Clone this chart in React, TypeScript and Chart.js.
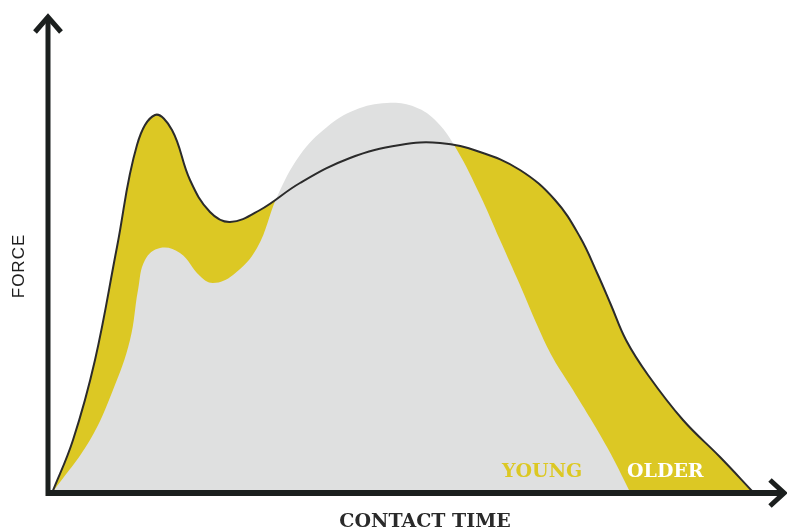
import React, { useEffect, useRef } from "react";
import { Chart, registerables } from "chart.js";

Chart.register(...registerables);

// Data in chart units: x = contact time, y = force
const olderX = [4, 25, 47, 69, 89, 107, 124, 142, 162, 182, 212, 252, 302, 352, 392, 432, 472, 507, 532, 550, 563, 578, 600, 635, 672, 705];
const olderY = [0, 53, 133, 246, 348, 378, 363, 313, 281, 271, 283, 310, 335, 348, 350, 341, 323, 293, 256, 218, 188, 153, 118, 73, 36, 1];

const youngX = [4, 42, 65, 82, 90, 97, 112, 132, 152, 165, 185, 209, 229, 252, 279, 307, 339, 367, 389, 409, 432, 452, 472, 490, 505, 525, 559, 582];
const youngY = [0, 53, 103, 153, 203, 233, 245, 240, 217, 210, 218, 245, 296, 338, 366, 383, 390, 386, 371, 343, 298, 253, 208, 166, 135, 103, 46, 1];

const xLabel = "CONTACT TIME";
const yLabel = "FORCE";
const seriesLabels = ["YOUNG", "OLDER"];

const YELLOW = "rgb(220,200,36)";
const GRAY = "rgb(223,224,224)";
const INK = "#1b1f1e";

const decorPlugin = {
  id: "decor",
  afterDatasetsDraw(chart: any) {
    const { ctx, scales } = chart;
    const xs = scales.x;
    const ys = scales.y;
    const x0 = xs.getPixelForValue(0);
    const y0 = ys.getPixelForValue(0);
    ctx.save();
    // series labels
    ctx.font = "bold 19px 'DejaVu Serif'";
    ctx.textAlign = "left";
    ctx.textBaseline = "alphabetic";
    ctx.fillStyle = YELLOW;
    ctx.fillText(seriesLabels[0], xs.getPixelForValue(454), ys.getPixelForValue(16));
    ctx.fillStyle = "#ffffff";
    ctx.fillText(seriesLabels[1], xs.getPixelForValue(579), ys.getPixelForValue(16));

    // axes
    ctx.strokeStyle = INK;
    ctx.lineCap = "butt";
    ctx.lineJoin = "miter";
    ctx.lineWidth = 5;
    ctx.beginPath();
    ctx.moveTo(x0, y0 + 3);
    ctx.lineTo(x0, 17);
    ctx.stroke();
    ctx.lineWidth = 6;
    ctx.beginPath();
    ctx.moveTo(x0 - 2, y0);
    ctx.lineTo(783, y0);
    ctx.stroke();
    // arrowheads
    ctx.lineWidth = 5;
    ctx.beginPath();
    ctx.moveTo(x0 - 13, 32);
    ctx.lineTo(x0, 17);
    ctx.lineTo(x0 + 13, 32);
    ctx.stroke();
    ctx.beginPath();
    ctx.moveTo(770, y0 - 13);
    ctx.lineTo(784, y0);
    ctx.lineTo(770, y0 + 13);
    ctx.stroke();

    // axis titles
    ctx.fillStyle = "#2a2a2a";
    ctx.font = "bold 19px 'DejaVu Serif'";
    ctx.textAlign = "center";
    ctx.fillText(xLabel, 425, 527);
    ctx.save();
    ctx.translate(24, 266);
    ctx.rotate(-Math.PI / 2);
    ctx.fillStyle = "#1e1e1e";
    ctx.font = "500 17px 'Liberation Sans'";
    (ctx as any).letterSpacing = "1px";
    ctx.textBaseline = "alphabetic";
    ctx.fillText(yLabel, 0, 0);
    ctx.restore();
    ctx.restore();
  },
};

export default function App() {
  const ref = useRef<HTMLCanvasElement | null>(null);
  useEffect(() => {
    document.body.style.margin = "0";
    const older = olderX.map((x, i) => ({ x, y: olderY[i] }));
    const young = youngX.map((x, i) => ({ x, y: youngY[i] }));
    const common = { pointRadius: 0, tension: 0.4 };
    const chart = new Chart(ref.current as HTMLCanvasElement, {
      type: "line",
      data: {
        datasets: [
          {
            label: "Older outline",
            data: older,
            borderColor: "#2b2b2b",
            borderWidth: 2,
            fill: false,
            order: 0,
            ...common,
          },
          {
            label: seriesLabels[0],
            data: young,
            borderWidth: 0,
            borderColor: GRAY,
            backgroundColor: GRAY,
            fill: "origin",
            order: 1,
            ...common,
          },
          {
            label: seriesLabels[1],
            data: older,
            borderWidth: 0,
            borderColor: YELLOW,
            backgroundColor: YELLOW,
            fill: "origin",
            order: 2,
            ...common,
          },
        ],
      },
      options: {
        animation: false,
        responsive: false,
        maintainAspectRatio: false,
        layout: { padding: { left: 48, right: 4, top: 20, bottom: 36 } },
        plugins: {
          legend: { display: false },
          tooltip: { enabled: false },
          filler: { drawTime: "beforeDatasetDraw" },
        },
        scales: {
          x: { type: "linear", min: 0, max: 735, display: false },
          y: { type: "linear", min: 0, max: 473, display: false },
        },
      },
      plugins: [decorPlugin],
    });
    return () => chart.destroy();
  }, []);
  return (
    <div style={{ position: "absolute", left: 0, top: 0, width: 787, height: 529 }}>
      <canvas ref={ref} width={787} height={529} style={{ width: 787, height: 529 }} />
    </div>
  );
}
